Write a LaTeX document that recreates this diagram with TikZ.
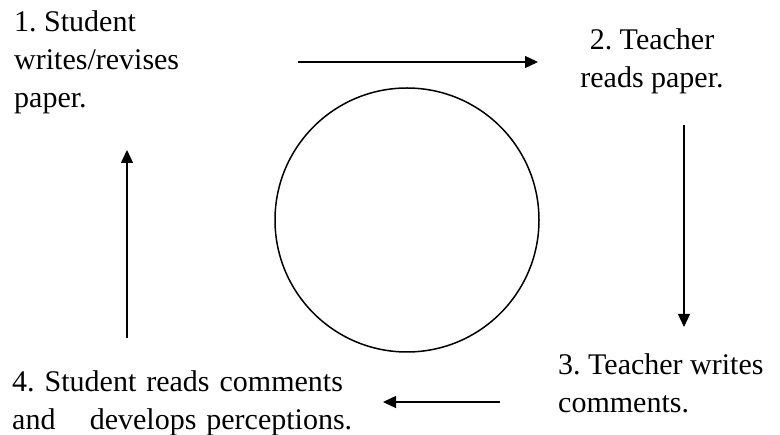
\documentclass[tikz,border=0pt]{standalone}
\usepackage{fontspec}
\setmainfont{Liberation Serif}
\frenchspacing
\usetikzlibrary{arrows.meta}
\tikzset{
  lbl/.style={inner sep=0pt, font=\fontsize{30}{38}\selectfont},
  flow/.style={line width=1.3pt, -{Triangle[length=13pt,width=12pt]}},
}
\begin{document}
\begin{tikzpicture}[x=1pt,y=-1pt]
\useasboundingbox (0,0) rectangle (780,435);
\node[lbl, anchor=base west, align=left] (s1) at (14,108) {1. Student\\writes/revises\\paper.};
\node[lbl, anchor=base, align=center] (s2) at (652,88) {2. Teacher\\reads paper.};
\node[lbl, anchor=base west, align=left] (s3) at (558,413) {3. Teacher writes\\comments.};
\node[lbl, anchor=base west, text width=340pt, align=left] (s4) at (12,392) {4. Student reads comments\\and\hfill develops perceptions.};
\node[draw, circle, line width=1.5pt, minimum size=264pt, inner sep=0pt] (c) at (407,220) {};
\coordinate (a1s) at (298,62);
\coordinate (a1e) at (538,62);
\coordinate (a2s) at (684,125);
\coordinate (a2e) at (684,327);
\coordinate (a3s) at (500,402);
\coordinate (a3e) at (383,402);
\coordinate (a4s) at (127,338);
\coordinate (a4e) at (127,150);
\draw[flow] (a1s) -- (a1e);
\draw[flow] (a2s) -- (a2e);
\draw[flow] (a3s) -- (a3e);
\draw[flow] (a4s) -- (a4e);
\end{tikzpicture}
\end{document}
